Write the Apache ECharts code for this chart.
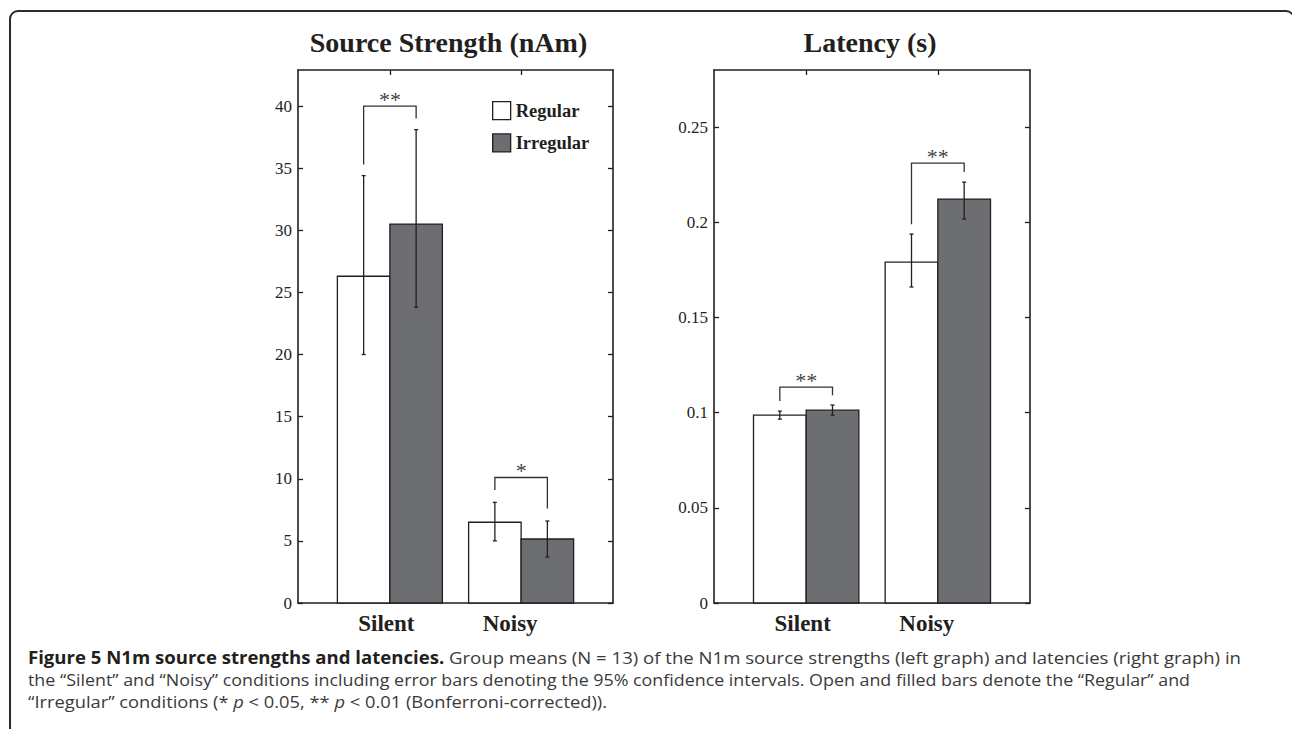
<!DOCTYPE html>
<html>
<head>
<meta charset="utf-8">
<script src="https://cdn.jsdelivr.net/npm/echarts@6/dist/echarts.min.js"></script>
<style>
  html, body { margin:0; padding:0; width:1292px; height:729px; overflow:hidden; background:#fff; }
  #frame { position:absolute; left:9px; top:10px; width:1282px; height:900px; border:2px solid #2b2b2b; border-radius:9px; box-sizing:content-box; }
  #chart { position:absolute; left:0; top:0; width:1292px; height:729px; }
  #caption { position:absolute; left:28px; top:647px; font-family:"Open Sans", sans-serif; font-size:17px; line-height:22px; color:#3a3a3a; white-space:nowrap; }
  #caption .ln { height:22px; }
  #caption .ln span { display:inline-block; transform-origin:0 50%; }
  #caption b { color:#231f20; font-weight:700; }
</style>
</head>
<body>
<div id="frame"></div>
<div id="chart"></div>
<div id="caption">
  <div class="ln"><span><b>Figure 5 N1m source strengths and latencies.</b> Group means (N = 13) of the N1m source strengths (left graph) and latencies (right graph) in</span></div>
  <div class="ln"><span>the “Silent” and “Noisy” conditions including error bars denoting the 95% confidence intervals. Open and filled bars denote the “Regular” and</span></div>
  <div class="ln"><span>“Irregular” conditions (* <i>p</i> &lt; 0.05, ** <i>p</i> &lt; 0.01 (Bonferroni-corrected)).</span></div>
</div>
<script>
// ---- data ----
const categories = ['Silent', 'Noisy'];
const seriesNames = ['Regular', 'Irregular'];
const chartTitles = ['Source Strength (nAm)', 'Latency (s)'];

const strengthRegular      = [26.3, 6.5];
const strengthRegularLow   = [20.0, 5.0];
const strengthRegularHigh  = [34.4, 8.1];
const strengthIrregular    = [30.5, 5.15];
const strengthIrregularLow = [23.8, 3.7];
const strengthIrregularHigh= [38.1, 6.6];
const strengthBracketTop   = [40.0, 10.1];
const strengthBracketLeft  = [35.3, 9.1];
const strengthBracketRight = [39.0, 7.6];
const strengthStars        = ['**', '*'];
const strengthTicks        = [0, 5, 10, 15, 20, 25, 30, 35, 40];
const strengthMax          = 42.9;

const latencyRegular       = [0.0987, 0.1791];
const latencyRegularLow    = [0.0966, 0.166];
const latencyRegularHigh   = [0.1008, 0.1938];
const latencyIrregular     = [0.1013, 0.2122];
const latencyIrregularLow  = [0.0987, 0.2017];
const latencyIrregularHigh = [0.1040, 0.2211];
const latencyBracketTop    = [0.1134, 0.2311];
const latencyBracketLeft   = [0.1061, 0.199];
const latencyBracketRight  = [0.1092, 0.2264];
const latencyStars         = ['**', '**'];
const latencyTicks         = [0, 0.05, 0.1, 0.15, 0.2, 0.25];
const latencyMax           = 0.28;

// ---- styling / layout ----
const INK = '#231f20';
const GRAY = '#6d6e71';
const BAR_W = 0.4;
const SERIF = '"Liberation Serif", "Times New Roman", serif';
const catPositions = categories.map((c, i) => i + 1);

function barRenderer(side, fill) {
  return function (params, api) {
    const c = api.value(0), v = api.value(1), lo = api.value(2), hi = api.value(3);
    const x1 = side < 0 ? c - BAR_W : c;
    const x2 = side < 0 ? c : c + BAR_W;
    const xm = (x1 + x2) / 2;
    const p1 = api.coord([x1, 0]);
    const p2 = api.coord([x2, v]);
    const pl = api.coord([xm, lo]);
    const ph = api.coord([xm, hi]);
    const cap = 2;
    const st = { stroke: INK, lineWidth: 1.3 };
    return {
      type: 'group',
      children: [
        { type: 'rect', shape: { x: p1[0], y: p2[1], width: p2[0] - p1[0], height: p1[1] - p2[1] },
          style: { fill: fill, stroke: INK, lineWidth: 1.3 } },
        { type: 'line', shape: { x1: pl[0], y1: pl[1], x2: ph[0], y2: ph[1] }, style: st },
        { type: 'line', shape: { x1: pl[0] - cap, y1: pl[1], x2: pl[0] + cap, y2: pl[1] }, style: st },
        { type: 'line', shape: { x1: ph[0] - cap, y1: ph[1], x2: ph[0] + cap, y2: ph[1] }, style: st }
      ]
    };
  };
}

function bracketRenderer(params, api) {
  const c = api.value(0), top = api.value(1), lf = api.value(2), rf = api.value(3);
  const label = api.value(4);
  const a = api.coord([c - BAR_W / 2, lf]);
  const b = api.coord([c - BAR_W / 2, top]);
  const d = api.coord([c + BAR_W / 2, top]);
  const e = api.coord([c + BAR_W / 2, rf]);
  const m = api.coord([c, top]);
  return {
    type: 'group',
    children: [
      { type: 'polyline', shape: { points: [a, b, d, e] }, style: { stroke: '#333', lineWidth: 1.3, fill: 'none' } },
      { type: 'text', x: m[0], y: m[1] - 7,
        style: { text: label, font: '22px ' + SERIF, fill: '#444', align: 'center', verticalAlign: 'middle' } }
    ]
  };
}

function makeBarData(vals, lows, highs) {
  return categories.map((c, i) => [catPositions[i], vals[i], lows[i], highs[i]]);
}
function makeBracketData(tops, lefts, rights, stars) {
  return categories.map((c, i) => [catPositions[i], tops[i], lefts[i], rights[i], stars[i]]);
}

const panels = [
  { reg: makeBarData(strengthRegular, strengthRegularLow, strengthRegularHigh),
    irr: makeBarData(strengthIrregular, strengthIrregularLow, strengthIrregularHigh),
    br: makeBracketData(strengthBracketTop, strengthBracketLeft, strengthBracketRight, strengthStars),
    ticks: strengthTicks, max: strengthMax },
  { reg: makeBarData(latencyRegular, latencyRegularLow, latencyRegularHigh),
    irr: makeBarData(latencyIrregular, latencyIrregularLow, latencyIrregularHigh),
    br: makeBracketData(latencyBracketTop, latencyBracketLeft, latencyBracketRight, latencyStars),
    ticks: latencyTicks, max: latencyMax }
];

const grids = [
  { left: 298, top: 70, width: 315, height: 533 },
  { left: 714, top: 70, width: 316, height: 533 }
];
const titleCenters = [448.5, 870];

const axisLine = { show: true, onZero: false, lineStyle: { color: INK, width: 1.6 } };
const xAxes = [], yAxes = [], series = [];
panels.forEach((p, g) => {
  xAxes.push({
    type: 'value', gridIndex: g, position: 'bottom', min: 0.3, max: 2.7,
    axisLine: axisLine, axisTick: { show: false }, splitLine: { show: false },
    axisLabel: {
      customValues: catPositions, margin: 9, color: INK,
      formatter: v => (v === 1 ? '{s|' + categories[0] + '}' : '{n|' + categories[1] + '}'),
      rich: {
        s: { fontFamily: SERIF, fontWeight: 'bold', fontSize: 23, color: INK, padding: [0, 7, 0, 0] },
        n: { fontFamily: SERIF, fontWeight: 'bold', fontSize: 23, color: INK, padding: [0, 22, 0, 0] }
      }
    }
  });
  xAxes.push({
    type: 'value', gridIndex: g, position: 'top', min: 0.3, max: 2.7,
    axisLine: axisLine,
    axisTick: { show: true, inside: true, length: 5, customValues: catPositions, lineStyle: { color: INK, width: 1.3 } },
    axisLabel: { show: false }, splitLine: { show: false }
  });
  yAxes.push({
    type: 'value', gridIndex: g, position: 'left', min: 0, max: p.max,
    axisLine: axisLine,
    axisTick: { show: true, inside: true, length: 5, customValues: p.ticks, lineStyle: { color: INK, width: 1.3 } },
    axisLabel: { customValues: p.ticks, margin: 6, fontFamily: SERIF, fontSize: 17, color: INK, formatter: v => String(v) },
    splitLine: { show: false }
  });
  yAxes.push({
    type: 'value', gridIndex: g, position: 'right', min: 0, max: p.max,
    axisLine: axisLine,
    axisTick: { show: true, inside: true, length: 5, customValues: p.ticks, lineStyle: { color: INK, width: 1.3 } },
    axisLabel: { show: false }, splitLine: { show: false }
  });
  const xi = g * 2, yi = g * 2;
  series.push({ type: 'custom', name: seriesNames[0], xAxisIndex: xi, yAxisIndex: yi, clip: false,
    itemStyle: { color: '#fff', borderColor: INK }, renderItem: barRenderer(-1, '#fff'),
    encode: { x: 0, y: 1 }, data: p.reg });
  series.push({ type: 'custom', name: seriesNames[1], xAxisIndex: xi, yAxisIndex: yi, clip: false,
    itemStyle: { color: GRAY, borderColor: INK }, renderItem: barRenderer(1, GRAY),
    encode: { x: 0, y: 1 }, data: p.irr });
  series.push({ type: 'custom', name: 'significance', xAxisIndex: xi, yAxisIndex: yi, clip: false,
    renderItem: bracketRenderer, encode: { x: 0, y: 1 }, data: p.br });
});

const chart = echarts.init(document.getElementById('chart'), null, { renderer: 'svg' });
chart.setOption({
  backgroundColor: 'transparent',
  animation: false,
  grid: grids,
  xAxis: xAxes,
  yAxis: yAxes,
  legend: {
    left: 487, top: 96, orient: 'vertical', itemWidth: 18, itemHeight: 18, itemGap: 13,
    selectedMode: false,
    textStyle: { fontFamily: SERIF, fontWeight: 'bold', fontSize: 18.5, color: INK },
    data: [
      { name: seriesNames[0], icon: 'rect', itemStyle: { color: '#fff', borderColor: INK, borderWidth: 1.3 } },
      { name: seriesNames[1], icon: 'rect', itemStyle: { color: GRAY, borderColor: INK, borderWidth: 1.3 } }
    ]
  },
  graphic: chartTitles.map((t, i) => ({
    type: 'text', x: titleCenters[i], y: 42.5,
    style: { text: t, font: 'bold 28px ' + SERIF, fill: INK, align: 'center', verticalAlign: 'middle' }
  })),
  series: series
});

// fit caption lines to the measured widths of the original
const captionTargets = [1213, 1162, 579];
function fitCaption() {
  const spans = document.querySelectorAll('#caption .ln span');
  spans.forEach((s, i) => {
    s.style.transform = 'none';
    const w = s.getBoundingClientRect().width;
    if (w > 0) s.style.transform = 'scaleX(' + (captionTargets[i] / w) + ')';
  });
}
fitCaption();
if (document.fonts && document.fonts.ready) document.fonts.ready.then(fitCaption);
</script>
</body>
</html>
